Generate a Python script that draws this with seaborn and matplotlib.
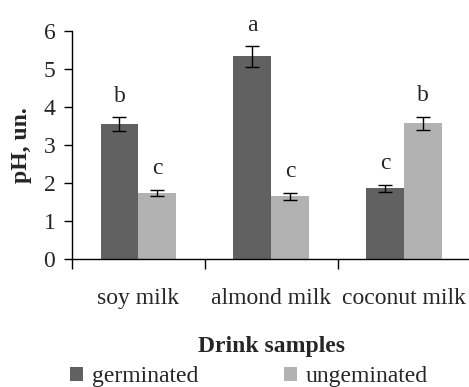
import matplotlib
matplotlib.use("Agg")
import matplotlib.pyplot as plt
import seaborn as sns
import pandas as pd
from matplotlib.patches import Patch

categories = ["soy milk", "almond milk", "coconut milk"]
series = ["germinated", "ungeminated"]
germinated = [3.55, 5.33, 1.87]
ungerminated = [1.75, 1.66, 3.57]
germ_err = [0.18, 0.28, 0.09]
ungerm_err = [0.08, 0.09, 0.18]
germ_letters = ["b", "a", "c"]
ungerm_letters = ["c", "c", "b"]
colors = ["#616161", "#b2b2b2"]

sns.set_style("white")
plt.rcParams["font.family"] = ["Liberation Serif", "DejaVu Serif"]
FS = 17

df = pd.DataFrame({
    "cat": categories * 2,
    "grp": [series[0]] * 3 + [series[1]] * 3,
    "val": germinated + ungerminated,
})
errs = germ_err + ungerm_err
letters = germ_letters + ungerm_letters

fig = plt.figure(figsize=(4.69, 3.87), dpi=100)
ax = fig.add_axes([0.1535, 0.33, 0.85, 0.59])
sns.barplot(data=df, x="cat", y="val", hue="grp", order=categories,
            hue_order=series, palette=colors, width=0.57, errorbar=None,
            saturation=1, ax=ax, legend=False, linewidth=0)

bars = [p for p in ax.patches]
for p, e, lab in zip(bars, errs, letters):
    xc = p.get_x() + p.get_width() / 2
    h = p.get_height()
    ax.errorbar(xc, h, yerr=e, color="black", capsize=5.2, elinewidth=1,
                capthick=1, fmt="none")
    ax.annotate(lab, (xc, h + e), xytext=(0, 11), textcoords="offset points",
                ha="center", va="baseline", fontsize=FS, annotation_clip=False)

ax.set_xlim(-0.5, 2.5)
ax.set_ylim(0, 6)
ax.set_yticks(range(0, 7))
ax.set_xticks([0, 1, 2])
ax.set_xticklabels(categories, fontsize=FS)
ax.set_xticks([-0.5, 0.5, 1.5, 2.5], minor=True)
ax.tick_params(axis="x", which="major", length=0, pad=21)
ax.tick_params(axis="x", which="minor", length=7, width=1, direction="out",
               color="black", bottom=True)
ax.tick_params(axis="y", length=6, width=1, direction="out", color="black",
               left=True, labelsize=FS, pad=6)
for s in ["top", "right"]:
    ax.spines[s].set_visible(False)
for s in ["left", "bottom"]:
    ax.spines[s].set_color("black")
    ax.spines[s].set_linewidth(1)
ax.set_ylabel("pH, un.", fontsize=FS, fontweight="bold", labelpad=8)
ax.set_xlabel("Drink samples", fontsize=FS, fontweight="bold", labelpad=19)

handles = [Patch(facecolor=c, edgecolor="none") for c in colors]
fig.legend(handles, series, loc="lower left", bbox_to_anchor=(0.105, -0.055),
           ncol=2, frameon=False, fontsize=FS, handlelength=0.55,
           handleheight=0.55, handletextpad=0.35, columnspacing=3.65)

fig.savefig("out.png", dpi=100)
